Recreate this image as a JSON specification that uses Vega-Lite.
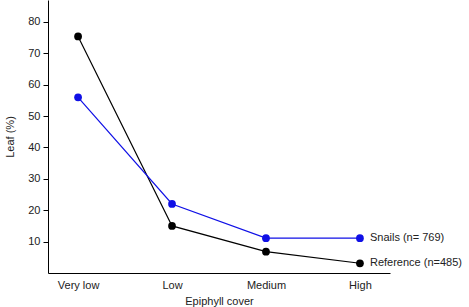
{
  "$schema": "https://vega.github.io/schema/vega-lite/v6.json",
  "width": 342,
  "height": 273,
  "autosize": {"type": "none"},
  "padding": {"left": 48, "top": 0, "right": 79, "bottom": 34},
  "background": "white",
  "config": {
    "view": {"stroke": null},
    "font": "Liberation Sans",
    "axis": {"labelFont": "Liberation Sans", "titleFont": "Liberation Sans", "labelColor": "#222", "titleColor": "#222", "titleFontWeight": "normal", "labelFontSize": 11, "titleFontSize": 11, "grid": false, "domainColor": "#000", "tickColor": "#000"}
  },
  "data": {
    "values": [
      {"cover": "Very low", "series": "Reference", "leaf": 75.4, "label": "Reference (n=485)"},
      {"cover": "Low", "series": "Reference", "leaf": 15.0, "label": "Reference (n=485)"},
      {"cover": "Medium", "series": "Reference", "leaf": 6.8, "label": "Reference (n=485)"},
      {"cover": "High", "series": "Reference", "leaf": 3.1, "label": "Reference (n=485)"},
      {"cover": "Very low", "series": "Snails", "leaf": 56.0, "label": "Snails (n= 769)"},
      {"cover": "Low", "series": "Snails", "leaf": 22.0, "label": "Snails (n= 769)"},
      {"cover": "Medium", "series": "Snails", "leaf": 11.1, "label": "Snails (n= 769)"},
      {"cover": "High", "series": "Snails", "leaf": 11.1, "label": "Snails (n= 769)"}
    ]
  },
  "encoding": {
    "x": {
      "field": "cover", "type": "ordinal", "sort": ["Very low", "Low", "Medium", "High"],
      "scale": {"type": "point", "padding": 0.32},
      "axis": {"title": "Epiphyll cover", "labelAngle": 0, "ticks": false, "labelPadding": 6, "titlePadding": 5}
    },
    "y": {
      "field": "leaf", "type": "quantitative",
      "scale": {"domain": [0, 87], "nice": false},
      "axis": {"title": "Leaf (%)", "values": [10, 20, 30, 40, 50, 60, 70, 80], "tickSize": 5, "labelPadding": 3, "titlePadding": 12}
    },
    "color": {
      "field": "series", "type": "nominal",
      "scale": {"domain": ["Reference", "Snails"], "range": ["#000000", "#1010e6"]},
      "legend": null
    }
  },
  "layer": [
    {"mark": {"type": "line", "strokeWidth": 1.2}},
    {"mark": {"type": "point", "filled": true, "opacity": 1, "size": 60}},
    {
      "transform": [{"filter": "datum.cover === 'High'"}],
      "mark": {"type": "text", "align": "left", "dx": 10, "fontSize": 11, "color": "#222"},
      "encoding": {"text": {"field": "label"}, "color": {"value": "#222"}}
    }
  ]
}
